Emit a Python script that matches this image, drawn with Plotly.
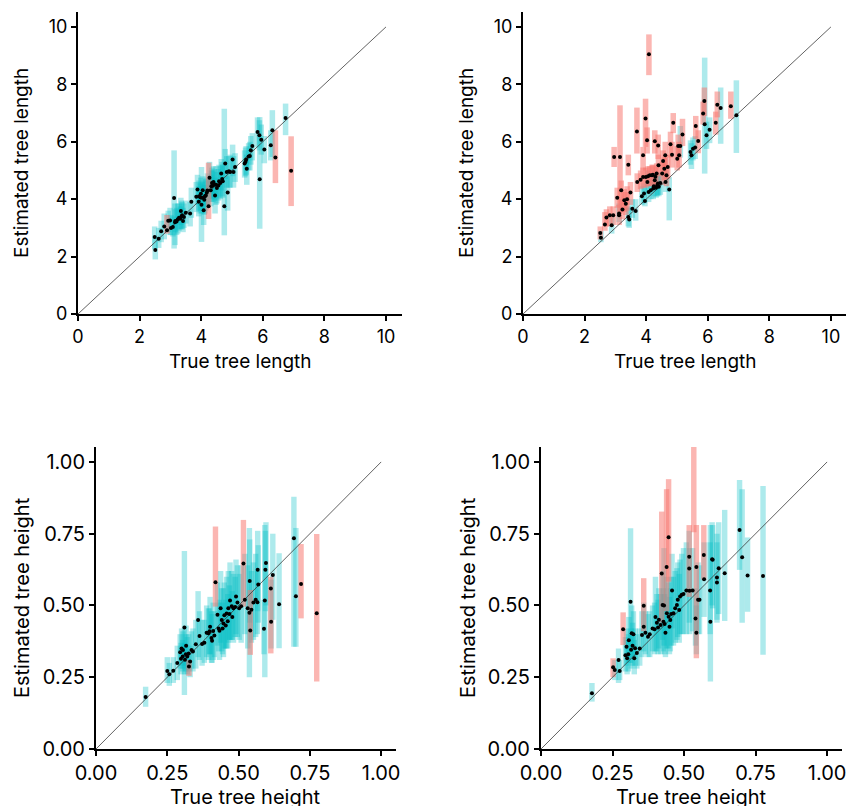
import plotly.graph_objects as go

# ---------------- Panel A: tree length, method 1 ----------------
lenA_true = [2.49, 2.51, 2.62, 2.70, 2.80, 2.89, 2.93, 2.99, 3.08, 3.12, 3.16, 3.24, 3.32, 3.34, 3.38, 3.41, 3.44, 3.50,
             3.64, 3.68, 3.84, 3.88, 3.92, 3.97, 3.99, 4.01, 4.05, 4.08, 4.10, 4.15, 4.18, 4.24, 4.27, 4.31, 4.35, 4.38,
             4.40, 4.45, 4.51, 4.56, 4.62, 4.65, 4.70, 4.75, 4.78, 4.83, 4.86, 4.94, 5.02, 5.05, 5.10, 5.41, 5.46, 5.48,
             5.54, 5.61, 5.66, 5.83, 5.89, 5.90, 5.95, 6.05, 6.26, 6.31, 6.41, 6.74, 6.92, 3.20, 3.28, 3.36, 3.93, 4.03,
             4.12, 4.20, 4.33, 4.42, 4.48, 4.58, 4.68, 4.90, 5.44, 5.58, 3.02, 3.15]
lenA_est = [2.68, 2.23, 2.62, 2.88, 3.05, 2.92, 3.25, 3.26, 3.03, 4.04, 3.24, 3.30, 3.32, 3.59, 3.44, 3.24, 3.38, 3.53,
            3.50, 3.91, 4.08, 4.34, 3.91, 4.07, 4.19, 3.81, 4.31, 3.61, 3.98, 4.13, 4.22, 3.75, 4.75, 4.31, 4.56, 4.48,
            4.60, 4.13, 4.39, 4.48, 4.56, 4.89, 4.62, 3.75, 5.24, 4.95, 4.23, 4.95, 5.38, 4.95, 5.12, 5.24, 5.38, 5.06,
            5.49, 5.70, 5.85, 6.34, 6.23, 4.69, 6.07, 5.73, 5.88, 6.40, 5.45, 6.83, 4.99, 3.22, 3.35, 3.40, 4.10, 4.05,
            4.10, 4.30, 4.45, 4.52, 4.50, 4.62, 4.70, 4.97, 5.30, 5.50, 3.00, 3.20]
lenA_lo = [2.25, 1.90, 2.30, 2.50, 2.60, 2.80, 2.85, 2.75, 2.70, 2.28, 2.85, 2.80, 2.95, 3.10, 2.95, 2.85, 3.00, 3.15,
           3.05, 3.35, 3.55, 3.80, 3.40, 3.50, 3.60, 2.51, 3.80, 3.10, 3.45, 3.60, 3.70, 3.31, 4.20, 3.75, 4.00, 3.90,
           4.05, 3.50, 3.85, 3.95, 4.00, 4.30, 4.05, 2.74, 4.70, 4.40, 3.60, 4.40, 4.80, 4.40, 4.60, 4.75, 4.85, 4.50,
           5.00, 5.20, 5.35, 5.80, 5.70, 2.97, 5.55, 5.25, 5.35, 5.47, 4.56, 6.23, 3.76, 2.75, 2.90, 2.95, 3.60, 3.50,
           3.50, 3.75, 3.90, 3.95, 3.80, 4.05, 4.10, 4.40, 4.80, 5.00, 2.75, 2.40]
lenA_hi = [3.05, 2.70, 3.00, 3.25, 3.50, 3.45, 3.60, 3.70, 3.40, 5.70, 3.65, 3.85, 3.75, 4.05, 3.90, 3.70, 3.85, 3.95,
           3.90, 4.40, 4.60, 4.85, 4.45, 4.55, 4.75, 5.12, 4.80, 4.15, 4.50, 4.70, 4.75, 5.27, 5.30, 4.85, 5.10, 5.00,
           5.15, 4.75, 4.95, 5.05, 5.15, 5.40, 5.20, 7.15, 5.75, 5.50, 4.80, 5.55, 5.90, 5.50, 5.60, 5.70, 5.85, 5.55,
           5.95, 6.20, 6.30, 6.85, 6.75, 6.86, 6.60, 6.20, 6.40, 7.10, 6.40, 7.33, 6.19, 3.70, 3.85, 3.95, 4.65, 4.60,
           4.65, 4.90, 5.00, 5.05, 5.15, 5.20, 5.30, 5.50, 5.80, 6.00, 3.45, 3.85]
lenA_red = [5, 31, 64, 66]   # indices of intervals that miss the true value

# ---------------- Panel B: tree length, method 2 ----------------
lenB_true = [2.51, 2.53, 2.66, 2.71, 2.82, 2.88, 2.93, 2.96, 3.06, 3.12, 3.12, 3.15, 3.19, 3.23, 3.29, 3.34, 3.38, 3.42,
             3.42, 3.45, 3.49, 3.55, 3.66, 3.70, 3.71, 3.82, 3.86, 3.90, 3.90, 3.96, 3.98, 3.99, 4.03, 4.04, 4.08, 4.09,
             4.12, 4.15, 4.19, 4.23, 4.28, 4.28, 4.34, 4.36, 4.39, 4.40, 4.41, 4.46, 4.52, 4.55, 4.59, 4.62, 4.63, 4.66,
             4.70, 4.75, 4.79, 4.84, 4.88, 5.01, 5.04, 5.07, 5.11, 5.18, 5.44, 5.47, 5.52, 5.59, 5.61, 5.69, 5.85, 5.89,
             5.90, 5.96, 6.06, 6.26, 6.31, 6.42, 6.75, 6.93, 4.06, 4.22, 4.30, 4.25, 4.32, 4.38, 3.93]
lenB_est = [2.82, 2.66, 3.12, 3.36, 3.44, 3.09, 3.44, 5.47, 4.05, 3.44, 3.50, 5.47, 4.31, 3.64, 3.96, 3.84, 4.00, 5.20,
            3.38, 3.29, 4.23, 3.67, 3.59, 6.36, 4.60, 4.68, 4.10, 5.53, 4.77, 3.94, 6.81, 4.77, 6.05, 4.60, 4.25, 9.05,
            4.83, 4.31, 4.83, 4.37, 6.02, 4.66, 4.89, 4.48, 5.87, 5.18, 4.43, 4.56, 4.89, 5.33, 5.06, 5.53, 4.60, 4.83,
            5.12, 4.34, 5.91, 5.55, 6.66, 5.41, 5.85, 5.53, 5.85, 6.25, 5.64, 5.53, 5.76, 5.80, 6.55, 6.03, 6.98, 7.42,
            6.61, 6.23, 6.42, 6.66, 7.29, 7.18, 7.24, 6.92, 4.80, 4.85, 4.78, 4.45, 4.40, 4.55, 4.20]
lenB_lo = [2.60, 2.50, 2.90, 3.05, 3.05, 2.80, 3.10, 5.12, 3.70, 3.10, 3.20, 3.50, 3.80, 3.30, 3.55, 3.45, 3.60, 4.83,
           3.05, 3.00, 3.80, 3.35, 3.25, 5.59, 4.25, 4.35, 3.80, 5.00, 4.40, 3.75, 5.82, 4.40, 5.59, 4.20, 3.90, 8.32,
           4.45, 4.00, 4.45, 4.00, 5.59, 4.30, 4.50, 4.10, 5.40, 4.80, 4.10, 4.15, 4.50, 4.95, 4.65, 5.10, 4.25, 4.45,
           4.70, 3.26, 5.45, 5.10, 6.30, 5.00, 5.45, 5.10, 5.45, 5.85, 5.20, 5.05, 5.35, 5.40, 6.10, 5.60, 6.60, 6.90,
           4.89, 5.75, 5.95, 6.25, 6.85, 5.93, 6.80, 5.61, 4.45, 4.50, 4.40, 4.10, 4.05, 4.15, 3.85]
lenB_hi = [3.05, 2.90, 3.55, 3.65, 3.75, 3.40, 3.75, 5.82, 4.40, 3.80, 3.85, 7.27, 4.65, 4.00, 4.35, 4.25, 4.45, 5.55,
           3.75, 3.70, 4.60, 4.00, 4.00, 7.19, 4.90, 5.00, 4.45, 5.82, 5.10, 4.40, 7.50, 5.10, 6.50, 5.00, 4.60, 9.74,
           5.15, 4.70, 5.20, 4.75, 6.40, 5.00, 5.25, 4.85, 6.25, 5.55, 4.80, 4.95, 5.30, 5.70, 5.45, 6.00, 5.00, 5.20,
           5.55, 4.77, 6.35, 6.00, 7.00, 5.85, 6.25, 6.00, 6.55, 6.80, 6.05, 5.95, 6.15, 6.20, 6.90, 6.40, 7.40, 7.89,
           8.93, 6.70, 6.85, 7.05, 7.75, 7.89, 7.75, 8.14, 5.15, 5.20, 5.15, 4.80, 4.75, 4.90, 4.55]
lenB_cyan = [1, 5, 10, 18, 19, 21, 22, 26, 29, 33, 34, 37, 39, 41, 43, 46, 47, 52, 55, 62, 64, 65, 66, 67,
             72, 73, 74, 77, 79, 83, 84, 85, 86]
lenB_red = [i for i in range(len(lenB_true)) if i not in lenB_cyan]

# ---------------- Panel C: tree height, method 1 ----------------
htC_true = [0.174, 0.250, 0.257, 0.271, 0.295, 0.298, 0.304, 0.310, 0.312, 0.316, 0.320, 0.325, 0.326, 0.330, 0.350,
            0.358, 0.363, 0.372, 0.388, 0.394, 0.400, 0.405, 0.411, 0.407, 0.419, 0.426, 0.433, 0.437, 0.441, 0.447,
            0.450, 0.458, 0.464, 0.470, 0.476, 0.482, 0.491, 0.502, 0.509, 0.517, 0.532, 0.538, 0.539, 0.541, 0.552,
            0.567, 0.569, 0.566, 0.592, 0.589, 0.594, 0.596, 0.613, 0.614, 0.620, 0.642, 0.694, 0.701, 0.719, 0.774,
            0.285, 0.305, 0.315, 0.340, 0.380, 0.398, 0.415, 0.430, 0.444, 0.455, 0.462, 0.468, 0.478, 0.488, 0.496,
            0.522, 0.545, 0.560, 0.300, 0.335]
htC_est = [0.181, 0.272, 0.260, 0.273, 0.337, 0.314, 0.322, 0.423, 0.311, 0.360, 0.322, 0.333, 0.287, 0.305, 0.365,
           0.449, 0.394, 0.366, 0.405, 0.403, 0.426, 0.387, 0.411, 0.377, 0.581, 0.468, 0.412, 0.490, 0.449, 0.437,
           0.466, 0.472, 0.490, 0.517, 0.497, 0.490, 0.531, 0.490, 0.497, 0.646, 0.490, 0.475, 0.585, 0.413, 0.510,
           0.624, 0.573, 0.511, 0.517, 0.419, 0.624, 0.648, 0.559, 0.443, 0.606, 0.504, 0.734, 0.532, 0.575, 0.473,
           0.300, 0.345, 0.330, 0.340, 0.370, 0.410, 0.395, 0.420, 0.420, 0.430, 0.445, 0.470, 0.460, 0.495, 0.510,
           0.520, 0.485, 0.520, 0.350, 0.345]
htC_lo = [0.147, 0.230, 0.220, 0.230, 0.280, 0.260, 0.270, 0.188, 0.260, 0.290, 0.260, 0.270, 0.255, 0.250, 0.280,
          0.320, 0.310, 0.290, 0.320, 0.310, 0.330, 0.300, 0.310, 0.300, 0.496, 0.360, 0.310, 0.370, 0.340, 0.320,
          0.350, 0.350, 0.370, 0.380, 0.380, 0.370, 0.400, 0.380, 0.370, 0.496, 0.350, 0.250, 0.440, 0.328, 0.380,
          0.480, 0.440, 0.400, 0.250, 0.330, 0.480, 0.500, 0.333, 0.350, 0.450, 0.351, 0.356, 0.356, 0.455, 0.235,
          0.240, 0.280, 0.270, 0.270, 0.300, 0.330, 0.320, 0.340, 0.330, 0.350, 0.350, 0.380, 0.380, 0.390, 0.390,
          0.400, 0.370, 0.390, 0.290, 0.280]
htC_hi = [0.217, 0.320, 0.300, 0.320, 0.400, 0.370, 0.380, 0.690, 0.370, 0.430, 0.390, 0.400, 0.310, 0.360, 0.450,
          0.550, 0.480, 0.450, 0.500, 0.490, 0.530, 0.480, 0.510, 0.470, 0.775, 0.580, 0.520, 0.620, 0.560, 0.560,
          0.580, 0.600, 0.620, 0.650, 0.620, 0.610, 0.660, 0.610, 0.640, 0.798, 0.640, 0.770, 0.730, 0.554, 0.650,
          0.760, 0.710, 0.620, 0.780, 0.520, 0.760, 0.790, 0.600, 0.590, 0.750, 0.682, 0.879, 0.770, 0.714, 0.749,
          0.360, 0.410, 0.400, 0.420, 0.450, 0.490, 0.480, 0.510, 0.510, 0.520, 0.540, 0.570, 0.550, 0.600, 0.640,
          0.680, 0.620, 0.680, 0.420, 0.410]
htC_red = [12, 24, 39, 43, 52, 58, 59]

# ---------------- Panel D: tree height, method 2 ----------------
htD_true = [0.178, 0.252, 0.258, 0.271, 0.275, 0.287, 0.295, 0.299, 0.301, 0.307, 0.313, 0.315, 0.317, 0.323, 0.326,
            0.329, 0.335, 0.353, 0.359, 0.359, 0.365, 0.374, 0.390, 0.397, 0.405, 0.409, 0.418, 0.422, 0.425, 0.428,
            0.432, 0.435, 0.439, 0.440, 0.446, 0.446, 0.449, 0.452, 0.458, 0.463, 0.469, 0.475, 0.483, 0.486, 0.492,
            0.508, 0.518, 0.518, 0.519, 0.530, 0.534, 0.543, 0.543, 0.540, 0.549, 0.554, 0.569, 0.570, 0.591, 0.592,
            0.598, 0.600, 0.615, 0.615, 0.621, 0.642, 0.694, 0.703, 0.722, 0.776, 0.305, 0.320, 0.345, 0.380, 0.412,
            0.455, 0.478, 0.498, 0.400, 0.430]
htD_est = [0.194, 0.285, 0.275, 0.310, 0.272, 0.417, 0.327, 0.356, 0.316, 0.379, 0.513, 0.346, 0.403, 0.400, 0.316,
           0.351, 0.334, 0.397, 0.499, 0.426, 0.405, 0.391, 0.420, 0.417, 0.440, 0.423, 0.432, 0.611, 0.502, 0.443,
           0.435, 0.405, 0.634, 0.473, 0.738, 0.461, 0.426, 0.449, 0.552, 0.473, 0.490, 0.502, 0.484, 0.531, 0.537,
           0.552, 0.670, 0.629, 0.551, 0.552, None, 0.634, 0.405, 0.455, 0.520, 0.520, 0.676, 0.591, 0.552, 0.443,
           0.661, 0.659, 0.580, 0.597, 0.630, 0.612, 0.763, 0.668, 0.604, 0.603, 0.330, 0.360, 0.350, 0.400, 0.450,
           0.470, 0.520, 0.540, 0.460, 0.500]
htD_lo = [0.165, 0.250, 0.240, 0.230, 0.240, 0.362, 0.270, 0.290, 0.260, 0.300, 0.300, 0.280, 0.320, 0.320, 0.260,
          0.290, 0.280, 0.320, 0.410, 0.340, 0.330, 0.320, 0.340, 0.330, 0.340, 0.330, 0.330, 0.440, 0.380, 0.340,
          0.330, 0.320, 0.480, 0.350, 0.583, 0.350, 0.330, 0.340, 0.420, 0.360, 0.370, 0.380, 0.370, 0.400, 0.400,
          0.400, 0.530, 0.440, 0.400, 0.410, 0.755, 0.316, 0.330, 0.360, 0.400, 0.400, 0.590, 0.460, 0.400, 0.235,
          0.500, 0.490, 0.450, 0.440, 0.470, 0.446, 0.624, 0.440, 0.478, 0.328, 0.270, 0.290, 0.290, 0.320, 0.350,
          0.360, 0.390, 0.400, 0.340, 0.360]
htD_hi = [0.230, 0.316, 0.310, 0.350, 0.310, 0.476, 0.390, 0.420, 0.380, 0.460, 0.769, 0.420, 0.500, 0.480, 0.380,
          0.420, 0.400, 0.480, 0.595, 0.510, 0.480, 0.470, 0.500, 0.510, 0.540, 0.520, 0.540, 0.827, 0.620, 0.560,
          0.540, 0.500, 0.905, 0.600, 0.940, 0.580, 0.530, 0.560, 0.680, 0.600, 0.620, 0.630, 0.610, 0.660, 0.680,
          0.720, 0.780, 0.760, 0.700, 0.700, 1.060, 0.780, 0.500, 0.560, 0.650, 0.640, 0.780, 0.720, 0.720, 0.780,
          0.790, 0.780, 0.720, 0.750, 0.790, 0.833, 0.937, 0.905, 0.737, 0.916, 0.400, 0.440, 0.420, 0.480, 0.560,
          0.600, 0.650, 0.700, 0.600, 0.700]
htD_red = [1, 5, 18, 27, 32, 34, 46, 50, 51, 56]

len_ticks = [0, 2, 4, 6, 8, 10]
len_ticktext = ["0", "2", "4", "6", "8", "10"]
ht_ticks = [0, 0.25, 0.5, 0.75, 1.0]
ht_ticktext = ["0.00", "0.25", "0.50", "0.75", "1.00"]
diag_len = [0, 10]
diag_ht = [0, 1]

CYAN = "rgba(0,191,196,0.32)"
RED = "rgba(248,118,109,0.53)"
FONT = "Inter, Liberation Sans, Arial, sans-serif"

fig = go.Figure()

panels = [
    (lenA_true, lenA_est, lenA_lo, lenA_hi, lenA_red, "x", "y", 0.18, diag_len),
    (lenB_true, lenB_est, lenB_lo, lenB_hi, lenB_red, "x2", "y2", 0.18, diag_len),
    (htC_true, htC_est, htC_lo, htC_hi, htC_red, "x3", "y3", 0.019, diag_ht),
    (htD_true, htD_est, htD_lo, htD_hi, htD_red, "x4", "y4", 0.019, diag_ht),
]

for xs, est, lo, hi, red, xa, ya, w, diag in panels:
    n = len(xs)
    assert len(est) == n and len(lo) == n and len(hi) == n
    fig.add_trace(go.Scatter(x=diag, y=diag, mode="lines", line=dict(color="#3a3a3a", width=0.8),
                             xaxis=xa, yaxis=ya, showlegend=False, hoverinfo="skip"))
    groups = ([i for i in range(n) if i not in red], CYAN), (list(red), RED)
    for idx, color in groups:
        fig.add_trace(go.Bar(x=[xs[i] for i in idx], y=[hi[i] - lo[i] for i in idx], base=[lo[i] for i in idx],
                             width=w, marker=dict(color=color, line=dict(width=0)),
                             xaxis=xa, yaxis=ya, showlegend=False))
    fig.add_trace(go.Scatter(x=xs, y=est, mode="markers", marker=dict(color="black", size=4),
                             xaxis=xa, yaxis=ya, showlegend=False))

W, H = 846, 806


def px_x(p):
    return p / W


def px_y(p):
    return 1 - p / H


axis_common = dict(showline=True, linecolor="black", linewidth=2, ticks="outside", ticklen=5, tickwidth=2,
                   tickcolor="black", showgrid=False, zeroline=False, color="black", automargin=False,
                   ticklabeloverflow="allow")

top_tick = dict(family=FONT, size=18, color="black")
bot_tick = dict(family=FONT, size=20, color="black")

fig.update_layout(
    width=W, height=H, margin=dict(l=0, r=0, t=0, b=0, autoexpand=False),
    paper_bgcolor="white", plot_bgcolor="white", barmode="overlay", showlegend=False,
    xaxis=dict(domain=[px_x(78), px_x(402)], range=[0, 10.52], anchor="y", tickvals=len_ticks,
               ticktext=len_ticktext, tickfont=top_tick, **axis_common),
    yaxis=dict(domain=[px_y(314), px_y(12)], range=[0, 10.52], anchor="x", tickvals=len_ticks,
               ticktext=len_ticktext, tickfont=top_tick, **axis_common),
    xaxis2=dict(domain=[px_x(523), 1.0], range=[0, 10.49], anchor="y2", tickvals=len_ticks,
                ticktext=len_ticktext, tickfont=top_tick, **axis_common),
    yaxis2=dict(domain=[px_y(314), px_y(12)], range=[0, 10.52], anchor="x2", tickvals=len_ticks,
                ticktext=len_ticktext, tickfont=top_tick, **axis_common),
    xaxis3=dict(domain=[px_x(96), px_x(396)], range=[0, 1.052], anchor="y3", tickvals=ht_ticks,
                ticktext=ht_ticktext, tickfont=bot_tick, **axis_common),
    yaxis3=dict(domain=[px_y(749), px_y(447)], range=[0, 1.052], anchor="x3", tickvals=ht_ticks,
                ticktext=ht_ticktext, tickfont=bot_tick, **axis_common),
    xaxis4=dict(domain=[px_x(541), px_x(842)], range=[0, 1.052], anchor="y4", tickvals=ht_ticks,
                ticktext=ht_ticktext, tickfont=bot_tick, **axis_common),
    yaxis4=dict(domain=[px_y(749), px_y(447)], range=[0, 1.052], anchor="x4", tickvals=ht_ticks,
                ticktext=ht_ticktext, tickfont=bot_tick, **axis_common),
)

title_font_top = dict(family=FONT, size=19, color="black")
title_font_bot = dict(family=FONT, size=20, color="black")
annots = [
    ("True tree length", px_x(240), px_y(361), 0, title_font_top),
    ("True tree length", px_x(685), px_y(361), 0, title_font_top),
    ("True tree height", px_x(246), px_y(797), 0, title_font_bot),
    ("True tree height", px_x(691), px_y(797), 0, title_font_bot),
    ("Estimated tree length", px_x(22), px_y(163), -90, title_font_top),
    ("Estimated tree length", px_x(467), px_y(163), -90, title_font_top),
    ("Estimated tree height", px_x(22), px_y(598), -90, title_font_bot),
    ("Estimated tree height", px_x(468), px_y(598), -90, title_font_bot),
]
for text, x, y, ang, f in annots:
    fig.add_annotation(text=text, x=x, y=y, xref="paper", yref="paper", xanchor="center", yanchor="middle",
                       textangle=ang, showarrow=False, font=f)

# remove the default page margin so the 846x806 figure fills the window exactly; hide the modebar
fig.write_html("out.html", config={"displayModeBar": False},
               post_script="document.body.style.margin='0px';document.body.style.overflow='hidden';")
